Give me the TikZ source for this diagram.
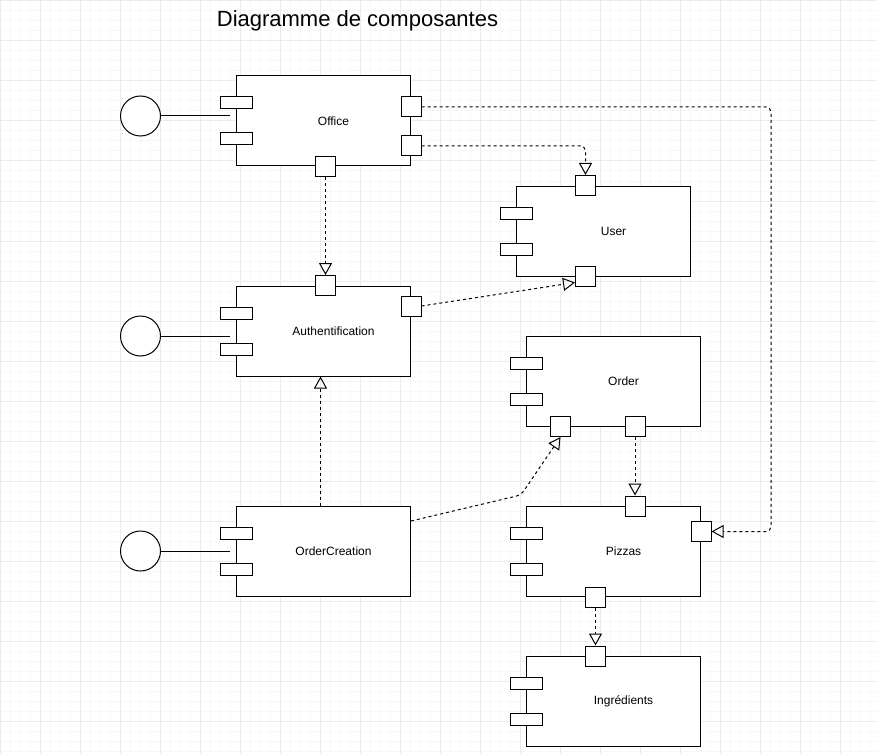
\documentclass[tikz,border=0pt]{standalone}
\usepackage{fontspec}
\setmainfont{Liberation Sans}
\usetikzlibrary{arrows.meta, positioning, calc}

\begin{document}
\begin{tikzpicture}[x=1pt, y=-1pt, line width=1pt]
        \tikzstyle{component} = [rectangle, minimum width=174pt, minimum height=90pt, inner sep=0pt, draw=black, fill=white]
        \tikzstyle{comptext} = [font=\fontsize{12}{14}\selectfont, xshift=10pt]
        \tikzstyle{lug} = [rectangle, minimum width=32pt, minimum height=12pt, inner sep=0pt, draw=black, fill=white]
        \tikzstyle{port} = [rectangle, minimum size=20pt, inner sep=0pt, draw=black, fill=white]
        \tikzstyle{iface} = [circle, minimum size=40pt, inner sep=0pt, draw=black, fill=white]
        \tikzstyle{dep} = [dash pattern=on 3pt off 3pt, rounded corners=5pt, -{Triangle[open, length=12pt, width=13pt]}]
        \tikzstyle{minorgrid} = [draw=black!3]
        \tikzstyle{majorgrid} = [draw=black!8]
        \useasboundingbox (0,0) rectangle (877,754);

        %grid
        \foreach \gx in {0.5,10.5,...,870.5} \draw[minorgrid] (\gx,0) -- (\gx,754);
        \foreach \gy in {1,11,...,751} \draw[minorgrid] (0,\gy) -- (877,\gy);
        \foreach \gx in {0.5,40.5,...,840.5} \draw[majorgrid] (\gx,0) -- (\gx,754);
        \foreach \gy in {1,41,...,721} \draw[majorgrid] (0,\gy) -- (877,\gy);

        \node[font=\fontsize{22}{26}\selectfont, anchor=base] (title) at (357.5,27) {Diagramme de composantes};

        %left column
        \node[component, label={[comptext]center:Office}] (office) at (323.5,121) {};
        \node[lug] (officeL1) at ([yshift=18pt]office.west) {};
        \node[lug] (officeL2) at ([yshift=-18pt]office.west) {};
        \node[port] (officeE1) at ([yshift=14pt]office.east) {};
        \node[port] (officeE2) at ([yshift=-25pt]office.east) {};
        \node[port] (officeS) at ([xshift=2pt]office.south) {};
        \node[iface] (officeI) at (140.5,116) {};

        \node[component, label={[comptext]center:Authentification}] (auth) at (323.5,331) {};
        \node[lug] (authL1) at ([yshift=18pt]auth.west) {};
        \node[lug] (authL2) at ([yshift=-18pt]auth.west) {};
        \node[port] (authN) at ([xshift=2pt]auth.north) {};
        \node[port] (authE) at ([yshift=25pt]auth.east) {};
        \node[iface] (authI) at (140.5,336) {};

        \node[component, label={[comptext]center:OrderCreation}] (orderCreation) at (323.5,551) {};
        \node[lug] (orderCreationL1) at ([yshift=18pt]orderCreation.west) {};
        \node[lug] (orderCreationL2) at ([yshift=-18pt]orderCreation.west) {};
        \node[iface] (orderCreationI) at (140.5,551) {};

        %right column
        \node[component, label={[comptext]center:User}] (user) at (603.5,231) {};
        \node[lug] (userL1) at ([yshift=18pt]user.west) {};
        \node[lug] (userL2) at ([yshift=-18pt]user.west) {};
        \node[port] (userN) at ([xshift=-18pt]user.north) {};
        \node[port] (userS) at ([xshift=-18pt]user.south) {};

        \node[component, label={[comptext]center:Order}] (order) at (613.5,381) {};
        \node[lug] (orderL1) at ([yshift=18pt]order.west) {};
        \node[lug] (orderL2) at ([yshift=-18pt]order.west) {};
        \node[port] (orderS1) at ([xshift=-53pt]order.south) {};
        \node[port] (orderS2) at ([xshift=21.5pt]order.south) {};

        \node[component, label={[comptext]center:Pizzas}] (pizzas) at (613.5,551.5) {};
        \node[lug] (pizzasL1) at ([yshift=18pt]pizzas.west) {};
        \node[lug] (pizzasL2) at ([yshift=-18pt]pizzas.west) {};
        \node[port] (pizzasN) at ([xshift=21.5pt]pizzas.north) {};
        \node[port] (pizzasE) at ([yshift=20pt]pizzas.east) {};
        \node[port] (pizzasS) at ([xshift=-18pt]pizzas.south) {};

        \node[component, label={[comptext]center:Ingrédients}] (ingredients) at (613.5,701.5) {};
        \node[lug] (ingredientsL1) at ([yshift=18pt]ingredients.west) {};
        \node[lug] (ingredientsL2) at ([yshift=-18pt]ingredients.west) {};
        \node[port] (ingredientsN) at ([xshift=-18pt]ingredients.north) {};

        %provided interfaces
        \draw (officeI) -- ($(officeI.east -| office.west)+(-6,0)$);
        \draw (authI) -- ($(authI.east -| auth.west)+(-6,0)$);
        \draw (orderCreationI) -- ($(orderCreationI.east -| orderCreation.west)+(-6,0)$);

        %dependencies
        \draw[dep] (officeE1.east) -- ++(349.5,0) |- (pizzasE.east);
        \draw[dep] (officeE2.east) -| (userN.north);
        \draw[dep] (officeS) -- (authN);
        \draw[dep] (authE.east) -- ([yshift=-6pt]userS.west);
        \draw[dep] ([xshift=-3pt]orderCreation.north) -- ([xshift=-3pt]auth.south);
        \coordinate (bendOC) at (521,495);
        \draw[dep] ([yshift=30pt]orderCreation.east) -- (bendOC) -- (orderS1.south);
        \draw[dep] (orderS2) -- (pizzasN);
        \draw[dep] (pizzasS) -- (ingredientsN);
    \end{tikzpicture}
\end{document}
